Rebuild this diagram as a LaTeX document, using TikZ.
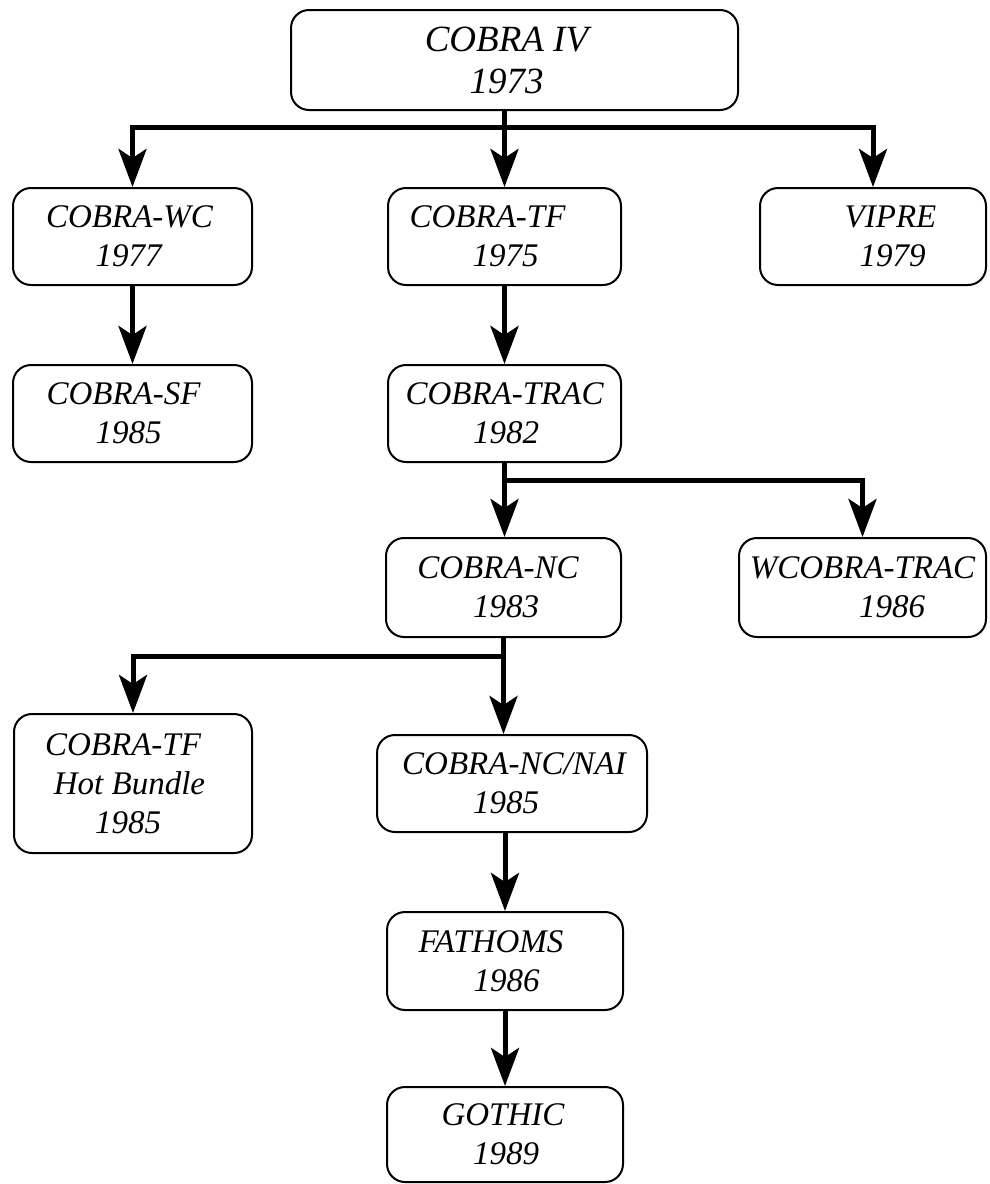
\documentclass[tikz,border=0pt]{standalone}
\usepackage{fontspec}
\setmainfont{Liberation Serif}
\usetikzlibrary{arrows.meta}
\newcommand\shft[1]{\hspace*{#1pt}}
\begin{document}
\begin{tikzpicture}[x=1pt,y=-1pt,
  box/.style={draw, line width=2pt, rounded corners=18pt, inner sep=0pt, align=center,
    font=\fontsize{33}{39}\selectfont\itshape},
  conn/.style={line width=5pt},
  arr/.style={line width=5pt, -{Stealth[length=38pt,width=28pt,inset=9pt]}}]
\useasboundingbox (0,0) rectangle (989,1184);
\fill[white] (0,0) rectangle (989,1184);
% boxes
\node[box, minimum width=447pt, minimum height=100pt, font=\fontsize{37}{42}\selectfont\itshape] (iv) at (514.5,60) {\shft{-16}COBRA IV\\\shft{-16}1973};
\node[box, minimum width=239pt, minimum height=97pt] (wc) at (132.5,236.5) {\shft{-6}COBRA-WC\\\shft{-8}1977};
\node[box, minimum width=233pt, minimum height=97pt] (tf) at (504.5,236.5) {\shft{-34}COBRA-TF\\\shft{2}1975};
\node[box, minimum width=226pt, minimum height=97pt] (vipre) at (873,236.5) {\shft{35}VIPRE\\\shft{39}1979};
\node[box, minimum width=239pt, minimum height=97pt] (sf) at (132.5,413.5) {\shft{-18}COBRA-SF\\\shft{-8}1985};
\node[box, minimum width=233pt, minimum height=97pt] (trac) at (504.5,413.5) {COBRA-TRAC\\\shft{3}1982};
\node[box, minimum width=235pt, minimum height=99pt] (nc) at (503.5,587.5) {\shft{-11}COBRA-NC\\\shft{5}1983};
\node[box, minimum width=247pt, minimum height=99pt] (wtrac) at (862.5,587.5) {WCOBRA-TRAC\\\shft{59}1986};
\node[box, minimum width=238pt, minimum height=139pt] (hb) at (133,783.5) {\shft{-20}COBRA-TF\\\shft{-7}Hot Bundle\\\shft{-10}1985};
\node[box, minimum width=270pt, minimum height=97pt] (nai) at (512,783.5) {\shft{4}COBRA-NC/NAI\\\shft{-12}1985};
\node[box, minimum width=236pt, minimum height=98pt] (fat) at (505,961) {\shft{-28}FATHOMS\\\shft{3}1986};
\node[box, minimum width=236pt, minimum height=95pt] (goth) at (505,1134.5) {\shft{-4}GOTHIC\\\shft{2}1989};
% junctions
\coordinate (b1) at (504.5,127);
\coordinate (b2) at (504.5,480);
\coordinate (b3) at (503.5,656);
% connectors
\draw[conn] (iv.south -| tf.north) -- (b1);
\draw[arr] (b1) -- (tf.north);
\draw[arr] (b1) -| (wc.north);
\draw[arr] (b1) -| (vipre.north);
\draw[arr] (wc.south) -- (sf.north);
\draw[arr] (tf.south) -- (trac.north);
\draw[conn] (trac.south) -- (b2);
\draw[arr] (b2) -- (b2 |- nc.north);
\draw[arr] (b2) -| (wtrac.north);
\draw[conn] (nc.south) -- (b3);
\draw[arr] (b3) -| (hb.north);
\draw[arr] (b3) -- (b3 |- nai.north);
\draw[arr] (nai.south -| fat.north) -- (fat.north);
\draw[arr] (fat.south) -- (goth.north);
\end{tikzpicture}
\end{document}
